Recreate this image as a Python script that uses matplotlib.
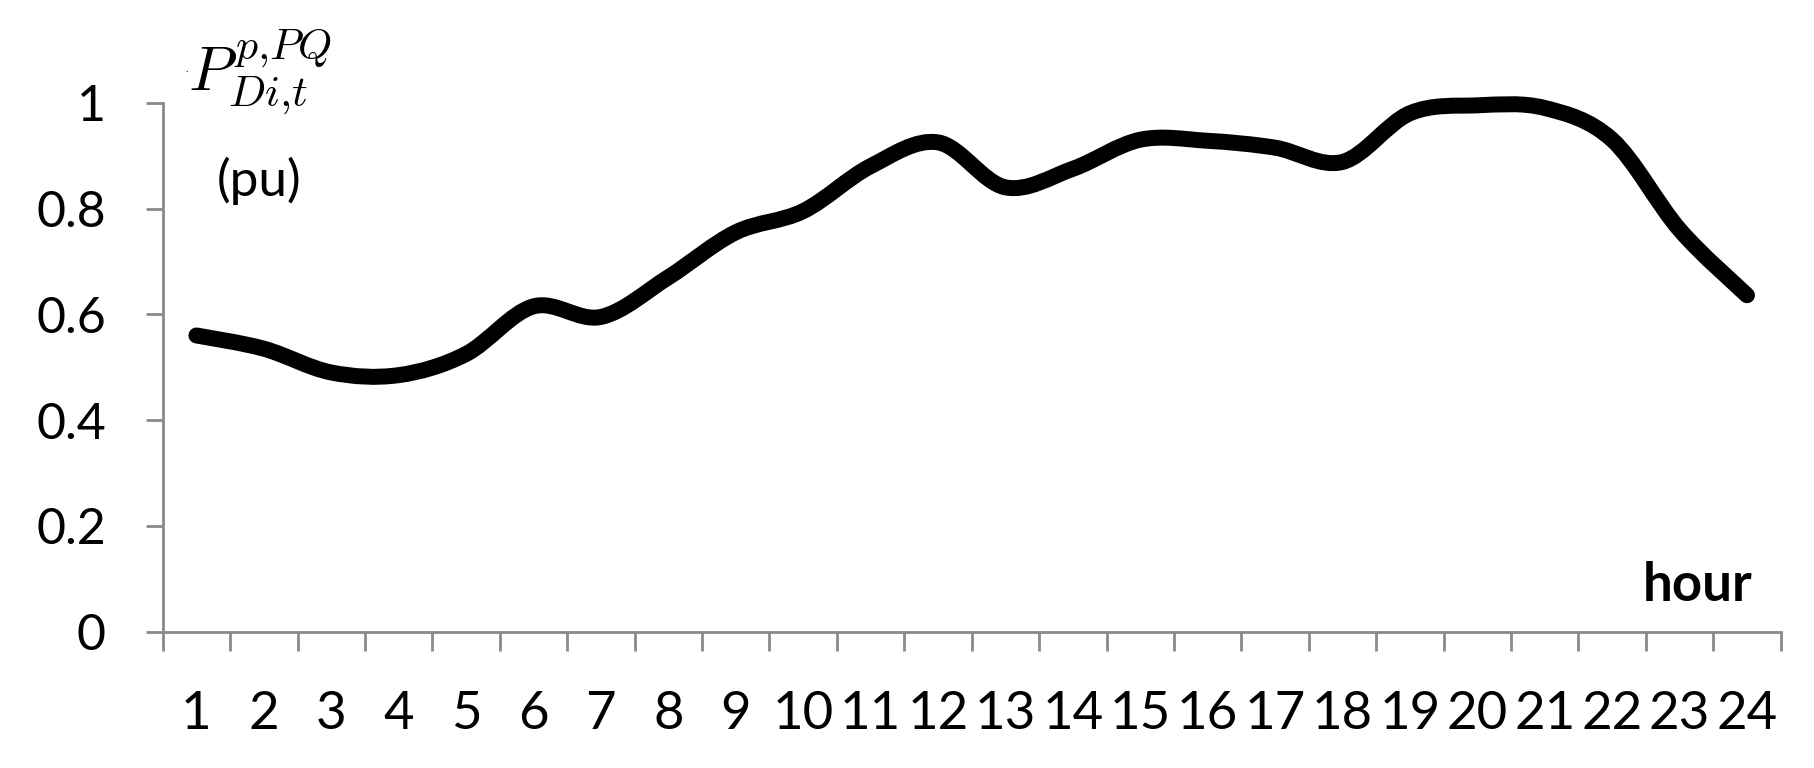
# hourly load profile P_Di,t (pu), Excel-style smoothed line
import numpy as np
import matplotlib
matplotlib.use("Agg")
import matplotlib.pyplot as plt
from matplotlib.path import Path
from matplotlib.patches import PathPatch

plt.rcParams['font.family'] = ['Lato', 'DejaVu Sans']
plt.rcParams['mathtext.fontset'] = 'cm'

hours = list(range(1, 25))
load_pu = [0.56, 0.535, 0.49, 0.485, 0.525, 0.615, 0.595, 0.67, 0.755, 0.795, 0.88, 0.925,
           0.84, 0.875, 0.93, 0.928, 0.915, 0.888, 0.98, 0.995, 0.99, 0.93, 0.76, 0.636]
yticks = [0, 0.2, 0.4, 0.6, 0.8, 1]
ytick_labels = ["0", "0.2", "0.4", "0.6", "0.8", "1"]
hour_labels = [str(h) for h in hours]

AXIS_GREY = '#8a8a8a'


def smooth_path(x, y):
	# catmull-rom style bezier, like excel's "smoothed line"
	pts = np.column_stack([x, y]).astype(float)
	ext = np.vstack([pts[0], pts, pts[-1]])
	verts = [pts[0]]
	codes = [Path.MOVETO]
	for i in range(len(pts) - 1):
		p0, p1, p2, p3 = ext[i], ext[i + 1], ext[i + 2], ext[i + 3]
		verts += [p1 + (p2 - p0) / 6, p2 - (p3 - p1) / 6, p2]
		codes += [Path.CURVE4] * 3
	return Path(verts, codes)


W, H = 1814, 768
fig = plt.figure(figsize=(W / 100, H / 100), dpi=100)
ax = fig.add_axes([162.7 / W, 1 - 631.7 / H, (1780.7 - 162.7) / W, (631.7 - 102.7) / H])

patch = PathPatch(smooth_path(hours, load_pu), facecolor='none', edgecolor='black',
				  linewidth=11.5, capstyle='round', joinstyle='round', clip_on=False)
ax.add_patch(patch)

ax.set_xlim(0.5, 24.5)
ax.set_ylim(0, 1)

# category axis: ticks between categories, labels at centres
ax.set_xticks(np.arange(0.5, 25, 1))
ax.set_xticklabels([])
ax.set_xticks(hours, minor=True)
ax.set_xticklabels(hour_labels, minor=True, fontsize=38)
ax.tick_params(axis='x', which='major', length=14, width=2, color=AXIS_GREY, direction='out')
ax.tick_params(axis='x', which='minor', length=0, pad=43)

ax.set_yticks(yticks)
ax.set_yticklabels(ytick_labels, fontsize=36)
ax.tick_params(axis='y', length=12, width=2, color=AXIS_GREY, direction='out', pad=29)

for s in ['top', 'right']:
	ax.spines[s].set_visible(False)
for s in ['left', 'bottom']:
	ax.spines[s].set_color(AXIS_GREY)
	ax.spines[s].set_linewidth(2)

fig.text(187 / W, 1 - 72 / H, '.', fontsize=8, color='#1f3d8a', ha='center', va='baseline')
fig.text(188 / W, 1 - 90 / H, r'$P^{p{,}PQ}_{Di{,}t}$', fontsize=45, ha='left', va='baseline')
fig.text(259 / W, 1 - 181 / H, '(pu)', fontsize=37, ha='center', va='center')
fig.text(1752 / W, 1 - 601 / H, 'hour', fontsize=38, fontweight='bold', ha='right', va='baseline')

fig.savefig('out.png', dpi=100, facecolor='white')
